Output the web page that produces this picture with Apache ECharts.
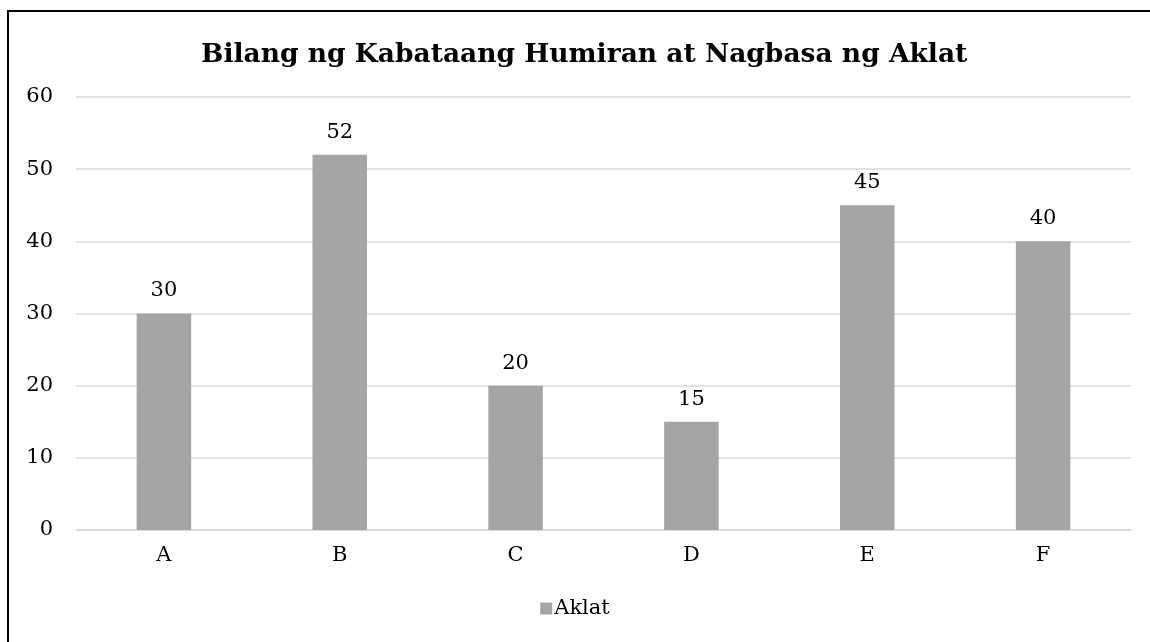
<!DOCTYPE html>
<html lang="tl">
<head>
<meta charset="utf-8">
<title>Bilang ng Kabataang Humiran at Nagbasa ng Aklat</title>
<script src="https://cdn.jsdelivr.net/npm/echarts@6/dist/echarts.min.js"></script>
<style>
  html, body { margin: 0; padding: 0; background: #fff; overflow: hidden; }
  #frame { position: absolute; left: 7px; top: 10px; width: 1160px; height: 660px; border: 2px solid #000; }
  #chart { position: absolute; left: 0; top: 0; width: 1150px; height: 642px; }
</style>
</head>
<body>
<div id="frame"></div>
<div id="chart"></div>
<script>
// datos ng tsart
var kategorya = ['A', 'B', 'C', 'D', 'E', 'F'];
var aklatData = [30, 52, 20, 15, 45, 40];
var seriesName = 'Aklat';
var titleText = 'Bilang ng Kabataang Humiran at Nagbasa ng Aklat';

var font = '"DejaVu Serif", "Liberation Serif", serif';
var chart = echarts.init(document.getElementById('chart'));
var option = {
    animation: false,
    title: {
        text: titleText,
        left: 196,
        top: 37,
        textStyle: { fontFamily: font, fontSize: 26.5, fontWeight: 'bold', color: '#000' }
    },
    legend: {
        data: [seriesName],
        bottom: 18,
        left: 'center',
        itemWidth: 12,
        itemHeight: 12,
        itemGap: 4,
        icon: 'rect',
        textStyle: { fontFamily: font, fontSize: 21, color: '#000', padding: [0, 0, 0, -3] }
    },
    grid: { left: 76, right: 19, top: 97, bottom: 112, containLabel: false },
    xAxis: {
        type: 'category',
        data: kategorya,
        axisLine: { lineStyle: { color: '#d9d9d9', width: 1.5 } },
        axisTick: { show: false },
        axisLabel: { fontFamily: font, fontSize: 21, color: '#000', margin: 15 }
    },
    yAxis: {
        type: 'value',
        min: 0,
        max: 60,
        interval: 10,
        axisLine: { show: false },
        axisTick: { show: false },
        splitLine: { lineStyle: { color: '#d9d9d9', width: 1.5 } },
        axisLabel: { fontFamily: font, fontSize: 21, color: '#000', margin: 23 }
    },
    series: [{
        name: seriesName,
        type: 'bar',
        data: aklatData,
        barWidth: '31%',
        itemStyle: { color: '#a5a5a5' },
        label: { show: true, position: 'top', distance: 12, fontFamily: font, fontSize: 21, color: '#000' }
    }]
};
chart.setOption(option);
</script>
</body>
</html>
